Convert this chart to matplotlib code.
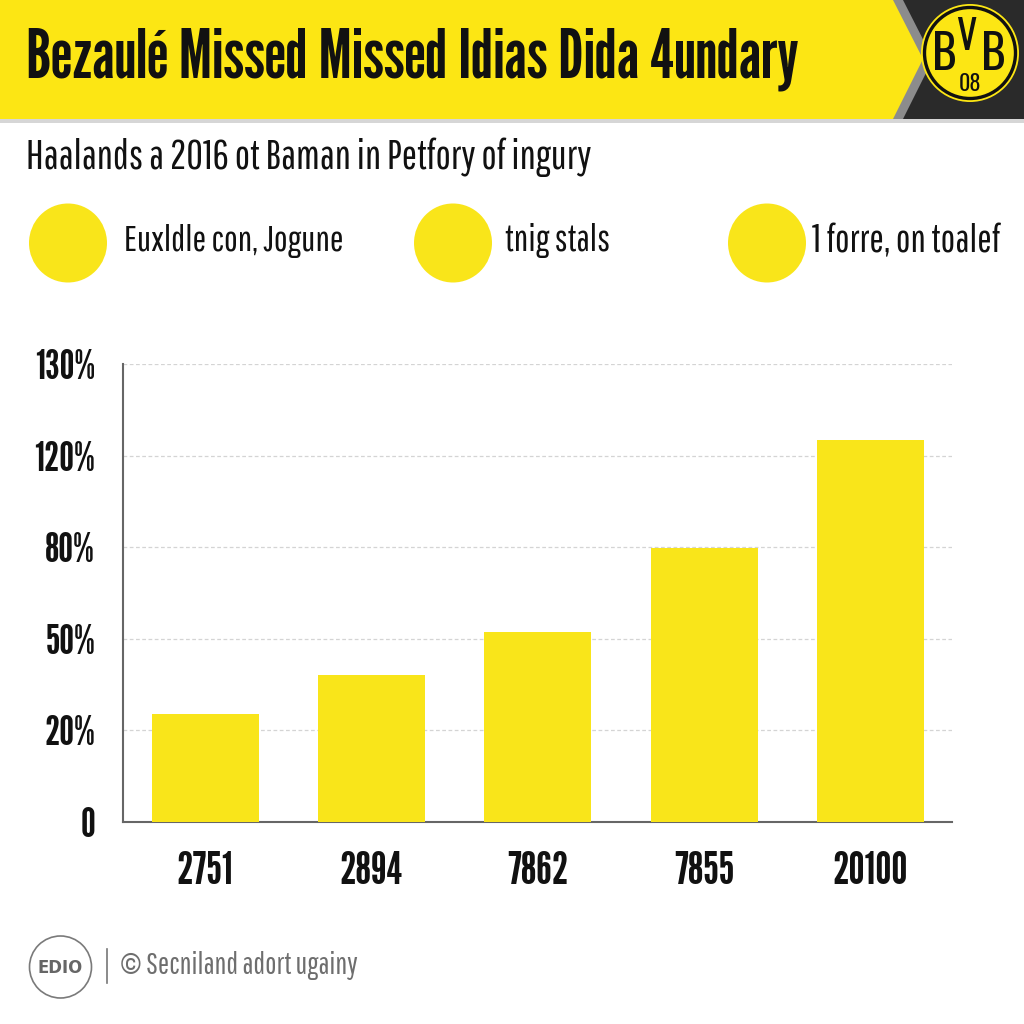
import matplotlib
matplotlib.use('Agg')
import matplotlib.pyplot as plt
from matplotlib.patches import Polygon, Circle, Rectangle, Ellipse

# ---------------- data ----------------
title = "Bezaulé Missed Missed Idias Dida 4undary"
subtitle = "Haalands a 2016 ot Baman in Petfory of ingury"
legend_labels = ["Euxldle con, Jogune", "tnig stals", "1 forre, on toalef"]
categories = ["2751", "2894", "7862", "7855", "20100"]
values = [1.18, 1.60, 2.07, 2.99, 4.17]   # heights in tick-step units
ytick_labels = ["0", "20%", "50%", "80%", "120%", "130%"]
footer_mark = "©"
footer_text = "Secniland adort ugainy"
logo_text = "EDIO"

YELLOW = "#F9E51A"
BANNER = "#FCE614"
BODY = ['Pathway Gothic One', 'Roboto Condensed', 'DejaVu Sans']
HEAD = ['League Gothic', 'Oswald', 'DejaVu Sans']
LOGO = ['Oswald', 'Roboto Condensed', 'DejaVu Sans']
plt.rcParams['font.family'] = BODY

fig = plt.figure(figsize=(10.24, 10.24), dpi=100)
fig.patch.set_facecolor('white')
renderer = fig.canvas.get_renderer()


def fit(t, width_px):
    fs = t.get_fontsize()
    w = t.get_window_extent(renderer=renderer).width
    t.set_fontsize(fs * width_px / w)
    return t


# overlay in pixel coordinates for decorations
ov = fig.add_axes([0, 0, 1, 1], zorder=0)
ov.set_xlim(0, 1024)
ov.set_ylim(1024, 0)
ov.axis('off')

# banner
ov.add_patch(Rectangle((0, 118), 1024, 5, color='#d6d6d6', lw=0))
ov.add_patch(Rectangle((880, 0), 144, 119, color='#2a2a2a', lw=0))
ov.add_patch(Polygon([(880, 0), (903, 0), (933, 59), (903, 119), (880, 119)], color='#8c8c8c', lw=0))
ov.add_patch(Polygon([(0, 0), (893, 0), (923, 59), (893, 119), (0, 119)], color=BANNER, lw=0))
t = ov.text(26, 59, title, fontsize=40, color='#111111', va='center', ha='left', family=HEAD)
fit(t, 771)

# BVB logo
ov.add_patch(Circle((970, 53), 49, fc=BANNER, ec='none'))
ov.add_patch(Circle((970, 53), 45.5, fc=BANNER, ec='#111111', lw=2.4))
ov.text(944, 55, "B", fontsize=34, fontweight='bold', ha='center', va='center', color='#111111', family=LOGO)
ov.text(993, 55, "B", fontsize=34, fontweight='bold', ha='center', va='center', color='#111111', family=LOGO)
ov.text(966, 37, "V", fontsize=29, fontweight='bold', ha='center', va='center', color='#111111', family=LOGO)
ov.text(970, 84, "08", fontsize=16, fontweight='bold', ha='center', va='center', color='#111111', family=LOGO)

# subtitle
t = ov.text(26, 157, subtitle, fontsize=25, color='#111111', va='center', ha='left')
fit(t, 569)

# legend
leg_x = [68, 453, 767]
txt_x = [124, 505, 812]
txt_w = [222, 106, 190]
for cx, tx, tw, lab in zip(leg_x, txt_x, txt_w, legend_labels):
    ov.add_patch(Ellipse((cx, 243), 78, 79, color=YELLOW, lw=0))
    t = ov.text(tx, 241, lab, fontsize=25, color='#111111', va='center', ha='left')
    fit(t, tw)

# footer
ov.add_patch(Circle((60.5, 967), 31, fc='white', ec='#7a7a7a', lw=1.2))
t = ov.text(60, 968, logo_text, fontsize=11, fontweight='bold', color='#666666', ha='center', va='center',
            family=['DejaVu Sans'])
fit(t, 45)
ov.plot([107, 107], [949, 983], color='#777777', lw=1.2)
ov.text(120, 967, footer_mark, fontsize=20, color='#6e6e6e', va='center', ha='left',
        family=['Roboto Condensed', 'DejaVu Sans'])
t = ov.text(146, 966, footer_text, fontsize=20, color='#6e6e6e', va='center', ha='left')
fit(t, 211)

# ---------------- bar chart ----------------
ax = fig.add_axes([123 / 1024, 1 - 822 / 1024, (952 - 123) / 1024, (822 - 364) / 1024], zorder=2)
ax.patch.set_alpha(0)
x = list(range(len(categories)))
ax.bar(x, values, width=0.643, color=YELLOW, zorder=3)
ax.set_xlim(-0.493, 4.49)
ax.set_ylim(0, 5)
ax.set_yticks(range(len(ytick_labels)))
ax.set_yticklabels(ytick_labels, color='#111111', family=HEAD)
ax.set_xticks(x)
ax.set_xticklabels(categories, color='#111111', family=HEAD)
ax.tick_params(axis='y', length=0, pad=20)
ax.tick_params(axis='x', length=0, pad=21)
ax.yaxis.grid(True, linestyle=(0, (3, 2)), color='#d4d4d4', lw=0.9, zorder=1)
ax.set_axisbelow(True)
for s in ['top', 'right']:
    ax.spines[s].set_visible(False)
for s in ['left', 'bottom']:
    ax.spines[s].set_color('#666666')
    ax.spines[s].set_linewidth(1.5)

# size tick labels by measured width
fig.canvas.draw()
ylabs = ax.get_yticklabels()
ref = ylabs[-1]
fs = ref.get_fontsize() * 60 / ref.get_window_extent(renderer=renderer).width
for l in ylabs:
    l.set_fontsize(fs)
xlabs = ax.get_xticklabels()
ref = xlabs[0]
fs = ref.get_fontsize() * 56 / ref.get_window_extent(renderer=renderer).width
for l in xlabs:
    l.set_fontsize(fs)

fig.savefig('out.png', dpi=100, facecolor='white')
